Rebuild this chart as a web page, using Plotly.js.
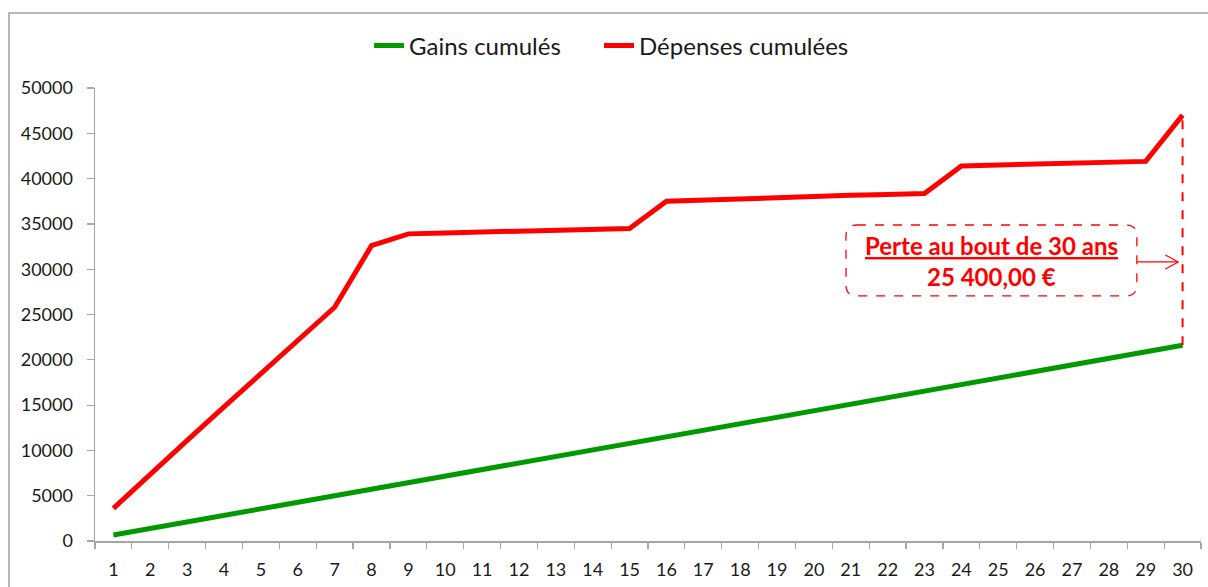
<!DOCTYPE html>
<html>
<head>
<meta charset="utf-8">
<script src="https://cdn.plot.ly/plotly-3.0.1.min.js"></script>
<style>
  html, body { margin: 0; padding: 0; background: #ffffff; }
  #chart { width: 1208px; height: 587px; }
</style>
</head>
<body>
<div id="chart"></div>
<script>
// ---- Data ----
const years = ["1","2","3","4","5","6","7","8","9","10","11","12","13","14","15",
               "16","17","18","19","20","21","22","23","24","25","26","27","28","29","30"];

const gainsCumules = [660, 1380, 2100, 2830, 3550, 4280, 5000, 5720, 6450, 7170,
                      7900, 8620, 9340, 10070, 10790, 11510, 12240, 12960, 13690, 14410,
                      15130, 15860, 16580, 17300, 18030, 18750, 19470, 20200, 20920, 21600];

const depensesCumulees = [3600, 7400, 11100, 14800, 18500, 22200, 25800, 32600, 33900, 34000,
                          34100, 34200, 34300, 34400, 34500, 37500, 37650, 37800, 37900, 38000,
                          38150, 38250, 38350, 41400, 41500, 41600, 41700, 41800, 41900, 47000];

const seriesNames = ["Gains cumulés", "Dépenses cumulées"];
const annotationTitle = "Perte au bout de 30 ans";
const annotationValue = "25 400,00 €";
const yTicks = [0, 5000, 10000, 15000, 20000, 25000, 30000, 35000, 40000, 45000, 50000];

// ---- Chart ----
const FONT = "Lato, 'Open Sans', 'DejaVu Sans', sans-serif";
const GREEN = "#009a00";
const RED = "#ff0000";
const AXIS = "#a6a6a6";

const traces = [
  {
    x: years, y: gainsCumules, type: "scatter", mode: "lines",
    name: seriesNames[0], line: { color: GREEN, width: 5 }, legend: "legend"
  },
  {
    x: years, y: depensesCumulees, type: "scatter", mode: "lines",
    name: seriesNames[1], line: { color: RED, width: 5 }, legend: "legend2"
  }
];

// rounded rectangle helper in paper coords
function roundedRect(x0, y0, x1, y1, rxp, ryp) {
  return `M ${x0 + rxp},${y1} L ${x1 - rxp},${y1} Q ${x1},${y1} ${x1},${y1 - ryp} ` +
         `L ${x1},${y0 + ryp} Q ${x1},${y0} ${x1 - rxp},${y0} ` +
         `L ${x0 + rxp},${y0} Q ${x0},${y0} ${x0},${y0 + ryp} ` +
         `L ${x0},${y1 - ryp} Q ${x0},${y1} ${x0 + rxp},${y1} Z`;
}

const plotW = 1106, plotH = 453;
const bx0 = 0.679, bx1 = 0.942, by0 = 0.541, by1 = 0.6976;
const arrowY = 0.616, arrowTip = 0.9795;
const fx0 = -86 / plotW, fTop = 528 / plotH;

const last = years.length - 1;

const legendCommon = {
  orientation: "h", y: 1.093, yanchor: "middle", xanchor: "left",
  font: { family: FONT, size: 24, color: "#1a1a1a" },
  bgcolor: "rgba(0,0,0,0)"
};

const layout = {
  width: 1208, height: 587,
  margin: { l: 95, r: 7, t: 88, b: 46 },
  paper_bgcolor: "#ffffff", plot_bgcolor: "#ffffff",
  font: { family: FONT, size: 18, color: "#1a1a1a" },
  showlegend: true,
  legend: Object.assign({}, legendCommon, { x: 0.2478 }),
  legend2: Object.assign({}, legendCommon, { x: 0.4557 }),
  xaxis: {
    type: "category",
    range: [-0.5, years.length - 0.5],
    showgrid: false, zeroline: false,
    showline: true, linecolor: AXIS, linewidth: 1.5,
    ticks: "outside", tickson: "boundaries", ticklen: 6, tickcolor: AXIS, tickwidth: 1.2,
    ticklabelstandoff: 12,
    tickfont: { family: FONT, size: 18, color: "#1a1a1a" },
    fixedrange: true
  },
  yaxis: {
    range: [0, 50000],
    tickvals: yTicks,
    ticktext: yTicks.map(String),
    showgrid: false, zeroline: false,
    showline: true, linecolor: AXIS, linewidth: 1.5,
    ticks: "outside", ticklen: 7, tickcolor: AXIS, tickwidth: 1.2,
    ticklabelstandoff: 10,
    tickfont: { family: FONT, size: 18, color: "#1a1a1a" },
    fixedrange: true
  },
  shapes: [
    // outer frame (left and top edges visible)
    { type: "path", xref: "paper", yref: "paper",
      path: `M ${fx0},-0.3 L ${fx0},${fTop} L 1.2,${fTop}`,
      line: { color: "#a0a0a0", width: 1.5 }, layer: "below" },
    // vertical dashed difference line at year 30
    { type: "line", xref: "x", yref: "y",
      x0: last, x1: last, y0: gainsCumules[last], y1: depensesCumulees[last],
      line: { color: RED, width: 2, dash: "dash" } },
    // rounded dashed box
    { type: "path", xref: "paper", yref: "paper",
      path: roundedRect(bx0, by0, bx1, by1, 11 / plotW, 11 / plotH),
      line: { color: RED, width: 1.3, dash: "dash" } },
    // arrow
    { type: "line", xref: "paper", yref: "paper",
      x0: bx1, x1: arrowTip, y0: arrowY, y1: arrowY,
      line: { color: RED, width: 1.3 } },
    { type: "line", xref: "paper", yref: "paper",
      x0: arrowTip - 13 / plotW, x1: arrowTip, y0: arrowY + 7 / plotH, y1: arrowY,
      line: { color: RED, width: 1.3 } },
    { type: "line", xref: "paper", yref: "paper",
      x0: arrowTip - 13 / plotW, x1: arrowTip, y0: arrowY - 7 / plotH, y1: arrowY,
      line: { color: RED, width: 1.3 } }
  ],
  annotations: [
    { xref: "paper", yref: "paper", x: (bx0 + bx1) / 2, y: 0.6515,
      xanchor: "center", yanchor: "middle", showarrow: false,
      text: "<b><u>" + annotationTitle + "</u></b>",
      font: { family: FONT, size: 24, color: RED } },
    { xref: "paper", yref: "paper", x: (bx0 + bx1) / 2, y: 0.5835,
      xanchor: "center", yanchor: "middle", showarrow: false,
      text: "<b>" + annotationValue + "</b>",
      font: { family: FONT, size: 24, color: RED } }
  ]
};

Plotly.newPlot("chart", traces, layout, { displayModeBar: false, staticPlot: true });
</script>
</body>
</html>
